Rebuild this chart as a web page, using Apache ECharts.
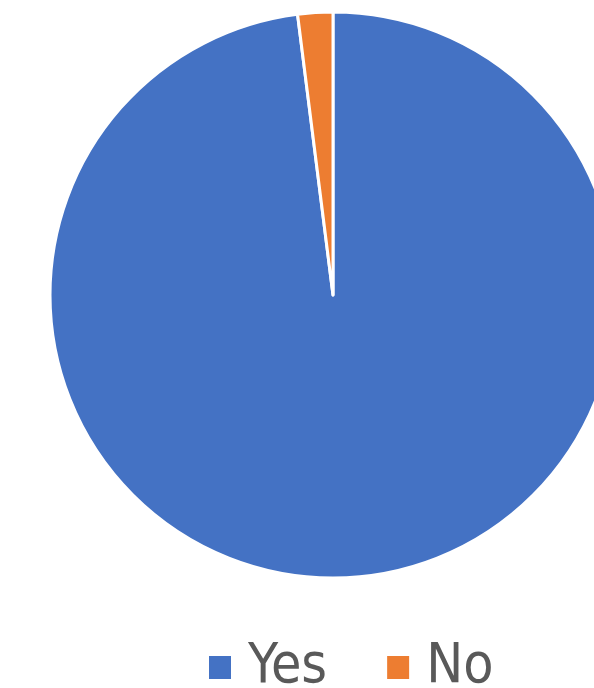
<!DOCTYPE html>
<html>
<head>
<meta charset="utf-8">
<script src="https://cdn.jsdelivr.net/npm/echarts@6/dist/echarts.min.js"></script>
<style>
  html, body { margin: 0; padding: 0; background: #ffffff; }
  #chart { width: 594px; height: 688px; }
</style>
</head>
<body>
<div id="chart"></div>
<script>
// Survey answers (percent of respondents)
const categories = ['Yes', 'No'];
const shares = [98, 2];
const colors = ['#4472C4', '#ED7D31'];

const chart = echarts.init(document.getElementById('chart'), null, { renderer: 'canvas' });

chart.setOption({
  animation: false,
  backgroundColor: '#ffffff',
  color: colors,
  legend: {
    data: categories,
    left: 202,
    top: 635,
    icon: 'rect',
    itemWidth: 24,
    itemHeight: 25,
    itemGap: 58,
    textStyle: {
      fontFamily: '"Liberation Sans Narrow", "DejaVu Sans Condensed", "Liberation Sans", sans-serif',
      fontSize: 55,
      color: '#595959',
      padding: [0, 0, 0, 11]
    }
  },
  series: [{
    type: 'pie',
    center: [333, 295],
    radius: [0, 283],
    startAngle: 90,
    clockwise: true,
    label: { show: false },
    labelLine: { show: false },
    emphasis: { disabled: true },
    itemStyle: { borderColor: '#ffffff', borderWidth: 3 },
    data: categories.map((name, i) => ({ name, value: shares[i] }))
  }]
});
</script>
</body>
</html>
